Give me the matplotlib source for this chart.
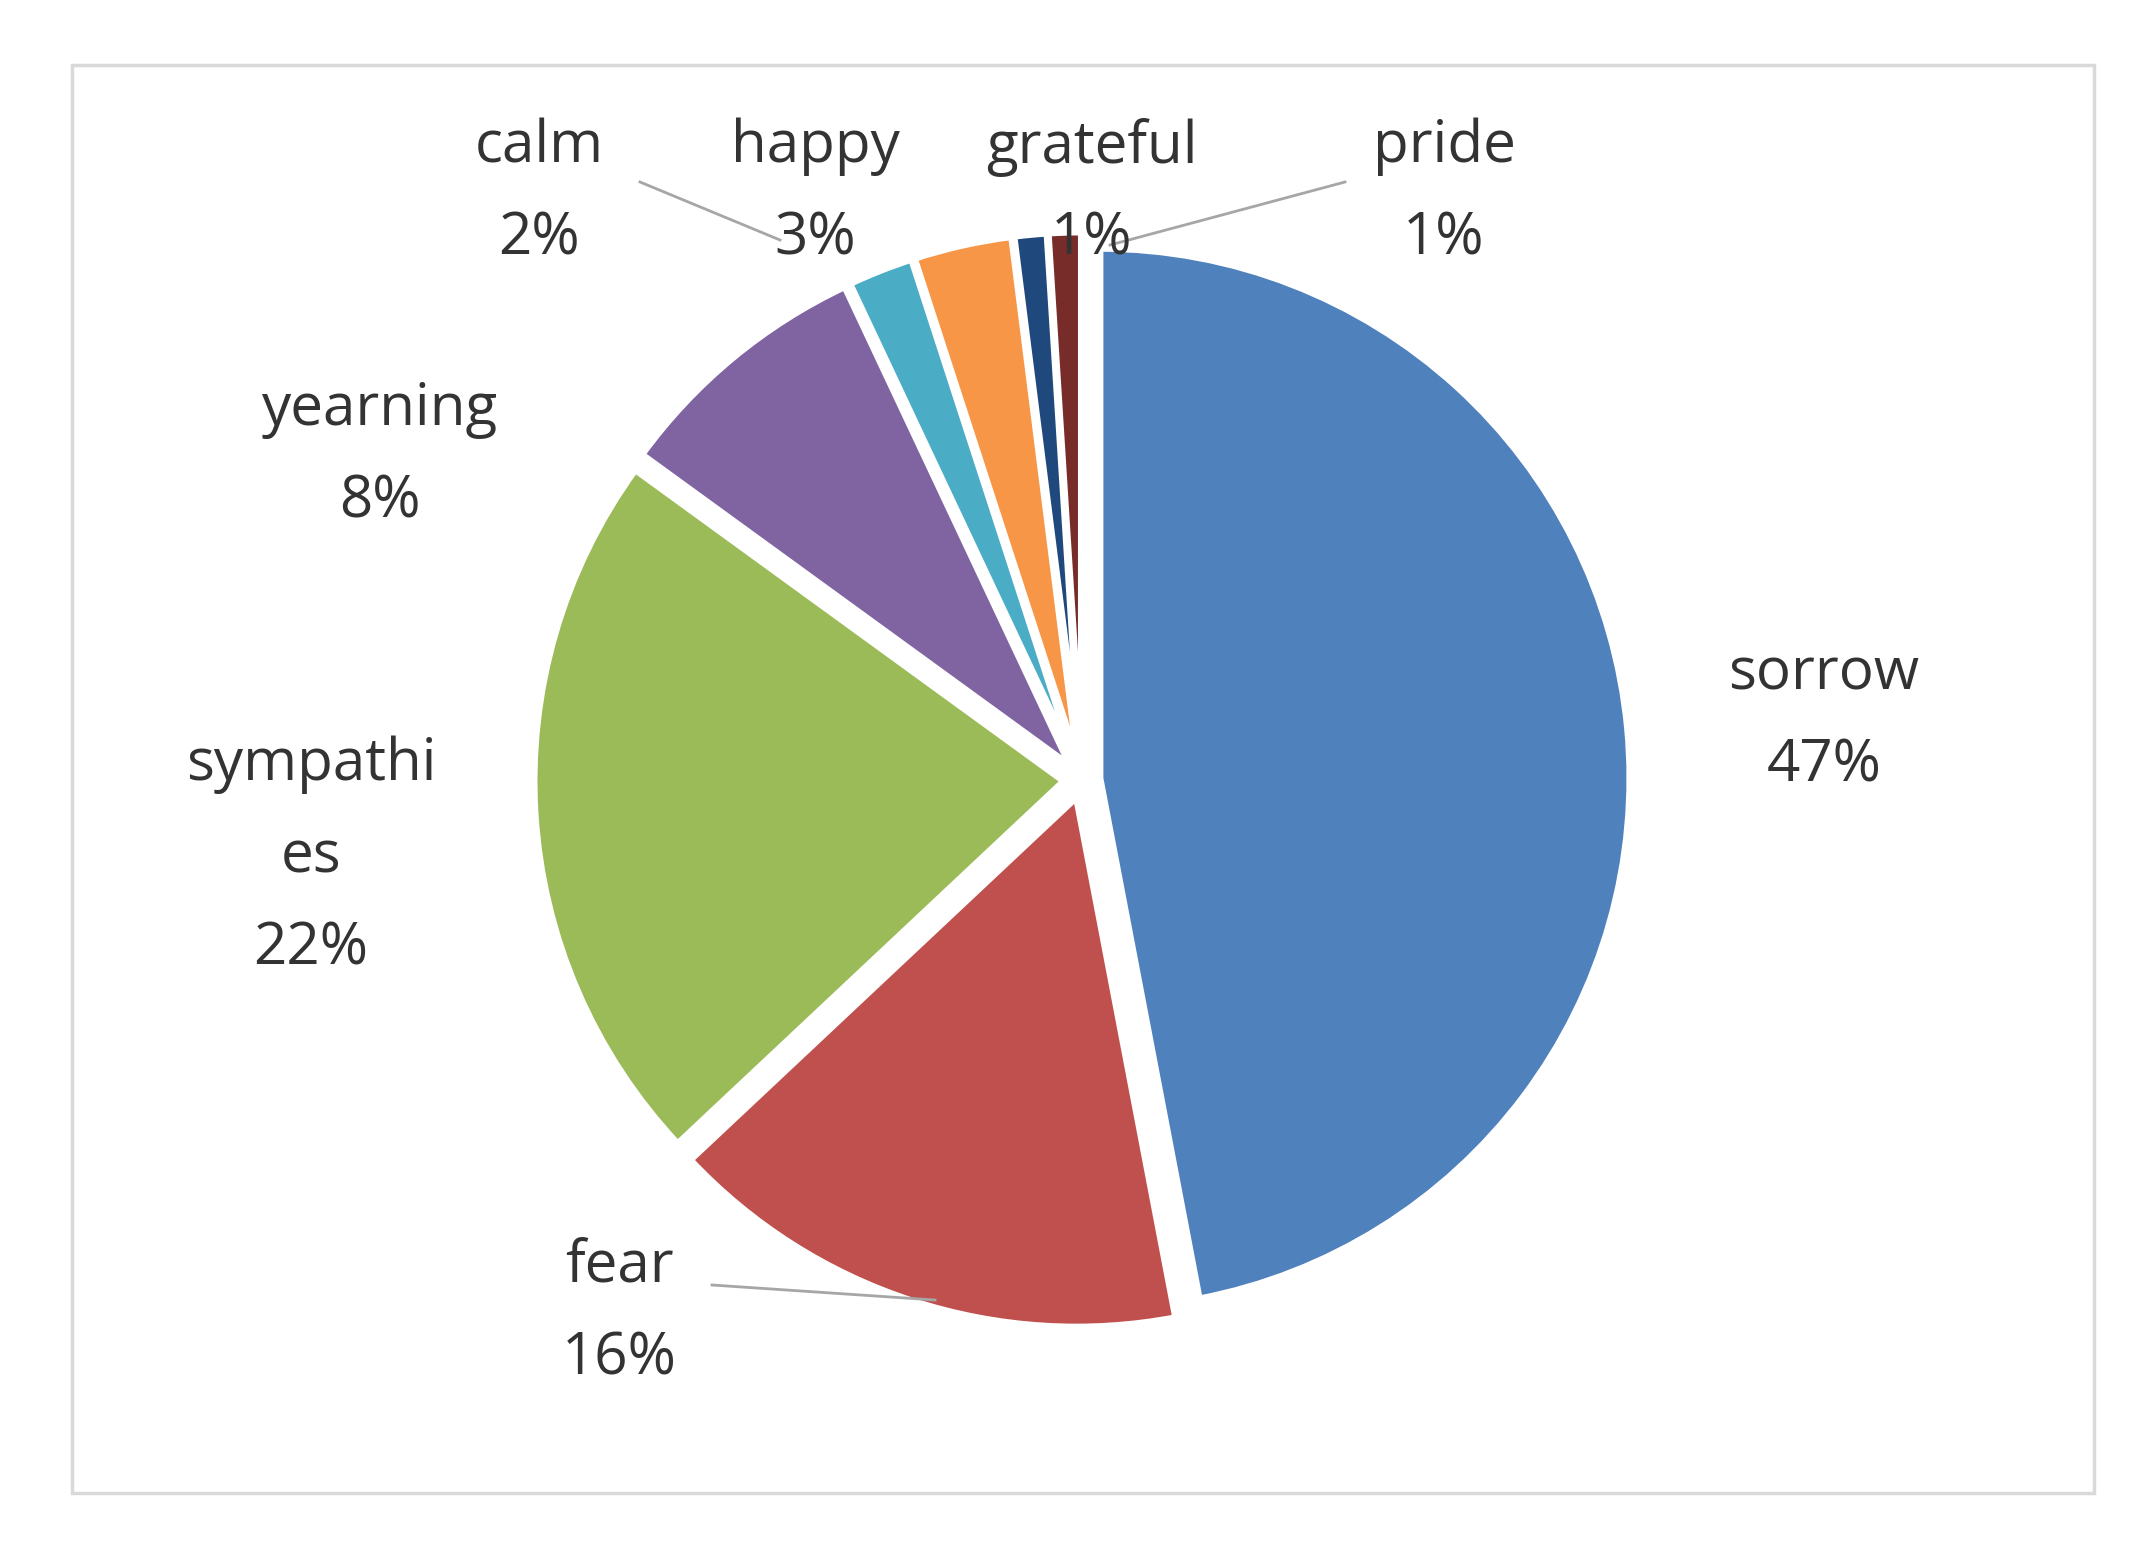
import matplotlib
matplotlib.use("Agg")
import matplotlib.pyplot as plt
from matplotlib.patches import Rectangle

labels = ["sorrow", "fear", "sympathi\nes", "yearning", "calm", "happy", "grateful", "pride"]
values = [47, 16, 22, 8, 2, 3, 1, 1]
colors = ["#4F81BD", "#C0504D", "#9BBB59", "#8064A2", "#4BACC6", "#F79646", "#1F497D", "#772C2A"]
label_pos = [(1824, 720), (619, 1313), (311, 857), (380, 456), (539, 193), (815, 193), (1092, 193), (1444, 193)]

plt.rcParams['font.family'] = ['Open Sans', 'DejaVu Sans']
fig = plt.figure(figsize=(21.56, 15.62), dpi=100)
ax = fig.add_axes([0, 0, 1, 1])

ax.add_patch(Rectangle((72, 65), 2022, 1428, fill=False, edgecolor='#d9d9d9', lw=2.5))

cx, cy, r = 1082, 780, 530
ax.pie(values, colors=colors, startangle=-90, counterclock=True, center=(cx, cy), radius=r,
       explode=[18] * len(values), wedgeprops=dict(edgecolor='white', linewidth=5), frame=True)
ax.set_xlim(0, 2156)
ax.set_ylim(1562, 0)
ax.set_aspect('equal')
ax.axis('off')

for lab, v, (x, y) in zip(labels, values, label_pos):
    ax.text(x, y, f"{lab}\n{v}%", ha='center', va='center', fontsize=42, color='#333333',
            linespacing=1.75)

for (x0, y0), (x1, y1) in [((640, 182), (780, 240)), ((1345, 182), (1110, 245)), ((712, 1285), (935, 1300))]:
    ax.plot([x0, x1], [y0, y1], color='#a6a6a6', lw=2)

fig.savefig("out.png", dpi=100, facecolor='white')
